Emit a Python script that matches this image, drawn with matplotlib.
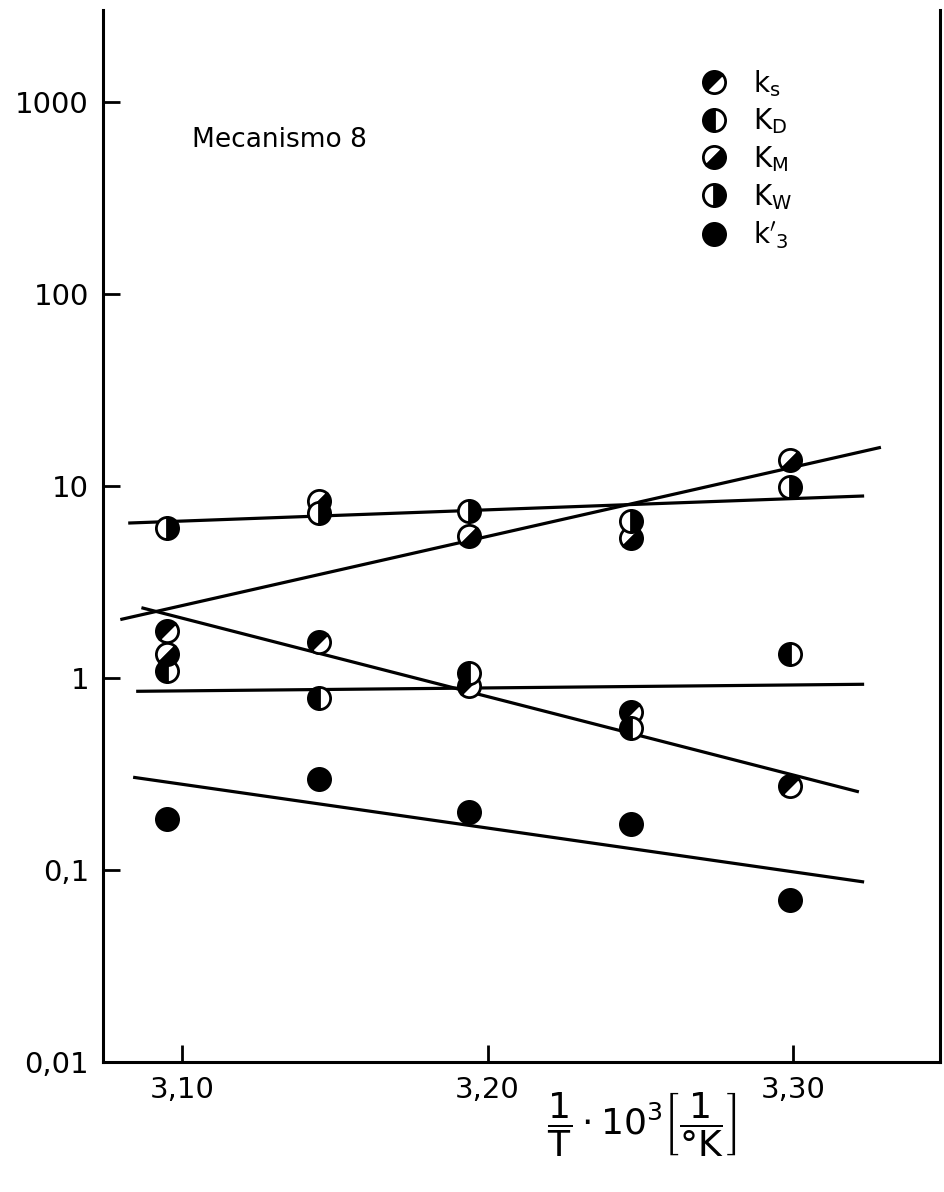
import matplotlib
matplotlib.use("Agg")
import matplotlib.pyplot as plt
from matplotlib.markers import MarkerStyle
from matplotlib.lines import Line2D
from matplotlib.transforms import Affine2D

# 1/T * 10^3 for the five temperatures
inv_T = [3.095, 3.145, 3.194, 3.247, 3.299]

k_s = [1.76, 1.54, 0.91, 0.67, 0.273]
K_D = [1.09, 0.787, 1.06, 0.55, 1.33]
K_M = [1.33, 8.4, 5.5, 5.4, 13.7]
K_W = [6.07, 7.3, 7.4, 6.6, 9.9]
k3 = [0.184, 0.297, 0.202, 0.175, 0.070]

# fitted straight lines (start / end points)
fit_x0 = [3.083, 3.0804, 3.0873, 3.0856, 3.0846]
fit_y0 = [6.44, 2.03, 2.32, 0.855, 0.304]
fit_x1 = [3.3226, 3.3281, 3.3209, 3.3226, 3.3226]
fit_y1 = [8.9, 15.9, 0.257, 0.93, 0.087]

x_ticks = [3.10, 3.20, 3.30]
x_tick_labels = ["3,10", "3,20", "3,30"]
y_ticks = [0.01, 0.1, 1, 10, 100, 1000]
y_tick_labels = ["0,01", "0,1", "1", "10", "100", "1000"]

rot = Affine2D().rotate_deg(-45)
styles = {
    "ks": dict(marker=MarkerStyle("o", "left", transform=rot), markerfacecolor="black", markerfacecoloralt="white"),
    "KD": dict(marker=MarkerStyle("o", "left"), markerfacecolor="black", markerfacecoloralt="white"),
    "KM": dict(marker=MarkerStyle("o", "left", transform=rot), markerfacecolor="white", markerfacecoloralt="black"),
    "KW": dict(marker=MarkerStyle("o", "right"), markerfacecolor="black", markerfacecoloralt="white"),
    "k3": dict(marker=MarkerStyle("o", "full"), markerfacecolor="black", markerfacecoloralt="black"),
}
labels = {"ks": r"$\mathrm{k_s}$", "KD": r"$\mathrm{K_D}$", "KM": r"$\mathrm{K_M}$",
          "KW": r"$\mathrm{K_W}$", "k3": r"$\mathrm{k}'_\mathrm{3}$"}
series = {"ks": k_s, "KD": K_D, "KM": K_M, "KW": K_W, "k3": k3}

fig = plt.figure(figsize=(9.44, 11.92), dpi=100)
ax = fig.add_axes([0.109, 0.109, 0.887, 0.883])

for i in range(len(fit_x0)):
    ax.plot([fit_x0[i], fit_x1[i]], [fit_y0[i], fit_y1[i]], color="black", lw=2.3, zorder=2)

ms = 16
for key, vals in series.items():
    ax.plot(inv_T, vals, linestyle="none", markersize=ms, markeredgecolor="black",
            markeredgewidth=2.0, zorder=3, **styles[key])

ax.set_yscale("log")
ax.set_xlim(3.0742, 3.348)
ax.set_ylim(0.01, 3050)
ax.set_xticks(x_ticks)
ax.set_xticklabels(x_tick_labels, fontsize=21)
ax.set_yticks(y_ticks)
ax.set_yticklabels(y_tick_labels, fontsize=21)
ax.minorticks_off()
ax.tick_params(direction="in", length=12, width=2, pad=10)

for side in ["left", "bottom", "right"]:
    ax.spines[side].set_linewidth(2.2)
ax.spines["top"].set_visible(False)

ax.text(0.106, 0.876, "Mecanismo 8", transform=ax.transAxes, fontsize=19, va="center", ha="left")

handles = [Line2D([], [], linestyle="none", markersize=ms, markeredgecolor="black",
                  markeredgewidth=2.0, **styles[k]) for k in series]
ax.legend(handles, [labels[k] for k in series], loc="upper left", bbox_to_anchor=(0.70, 0.955),
          frameon=False, fontsize=20, handlelength=1.0, handletextpad=0.9, labelspacing=0.28,
          borderaxespad=0)

ax.set_xlabel(r"$\dfrac{1}{\mathrm{T}}\cdot 10^3\left[\dfrac{1}{°\mathrm{K}}\right]$", fontsize=26)
ax.xaxis.set_label_coords(0.643, -0.027, transform=ax.transAxes)
ax.xaxis.label.set_va("top")

fig.savefig("out.png", dpi=100)
